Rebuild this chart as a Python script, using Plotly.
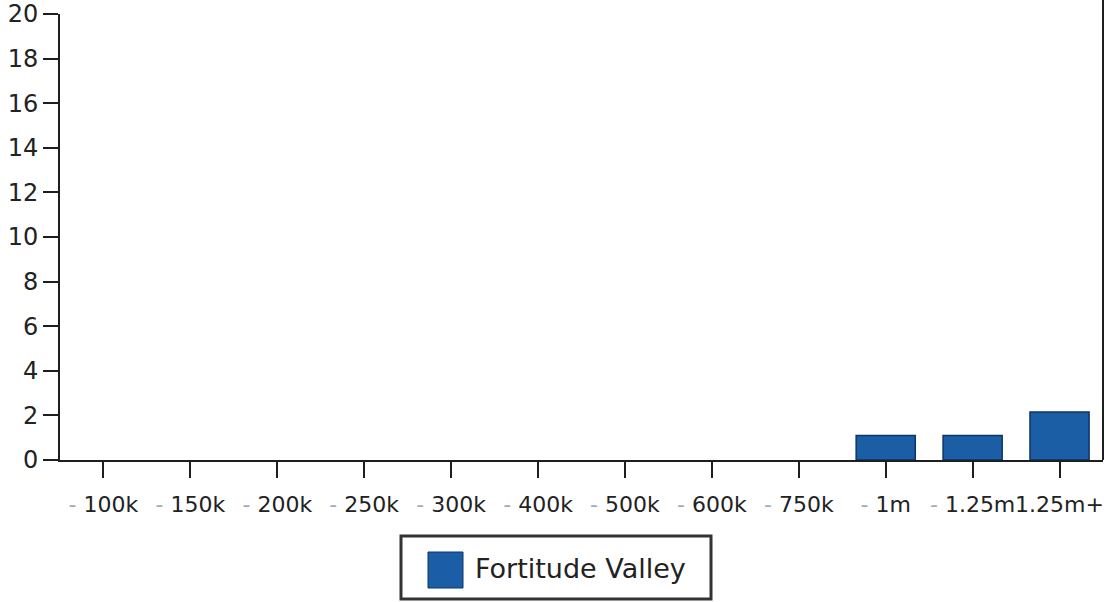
import plotly.graph_objects as go

categories = ["- 100k", "- 150k", "- 200k", "- 250k", "- 300k", "- 400k",
              "- 500k", "- 600k", "- 750k", "- 1m", "- 1.25m", "1.25m+"]
values = [0, 0, 0, 0, 0, 0, 0, 0, 0, 1.1, 1.1, 2.15]
series_name = "Fortitude Valley"
y_ticks = [0, 2, 4, 6, 8, 10, 12, 14, 16, 18, 20]

bar_color = "#1b5ea6"
ink = "#1e1e1e"
dash_color = "#9aaac0"

FIG_W, FIG_H = 1108, 602
ML, MR, MT, MB = 60, 5, 14, 142
plot_w = FIG_W - ML - MR
plot_h = FIG_H - MT - MB


def px_to_paper_x(px):
    return (px - ML) / plot_w


def px_to_paper_y(py):
    return (FIG_H - MB - py) / plot_h


ticktext = []
for c in categories:
    if c.startswith("- "):
        ticktext.append(f'<span style="color:{dash_color}">-</span> {c[2:]}')
    else:
        ticktext.append(c)

fig = go.Figure()
fig.add_trace(go.Bar(
    x=categories, y=values, name=series_name,
    marker=dict(color=bar_color,
                line=dict(color="#0d3566", width=[0 if v == 0 else 1.5 for v in values])),
    showlegend=True,
))

fig.update_layout(
    width=FIG_W, height=FIG_H,
    margin=dict(l=ML, r=MR, t=MT, b=MB, autoexpand=False),
    paper_bgcolor="white", plot_bgcolor="white",
    bargap=0.32,
    font=dict(family="DejaVu Sans", color=ink, size=20),
    showlegend=True,
    legend=dict(
        x=px_to_paper_x(400), xanchor="left",
        y=px_to_paper_y(543), yanchor="top",
        orientation="h",
        borderwidth=0,
        font=dict(size=27, color="#222222"),
        bgcolor="rgba(255,255,255,0)",
        itemwidth=65,
        entrywidth=228, entrywidthmode="pixels",
    ),
    xaxis=dict(
        type="category", categoryorder="array", categoryarray=categories,
        tickvals=categories, ticktext=ticktext,
        showline=True, linecolor=ink, linewidth=2,
        ticks="outside", ticklen=16, tickwidth=2, tickcolor=ink,
        tickfont=dict(size=22, color="#222222"),
        ticklabelstandoff=8, ticklabeloverflow="allow",
        showgrid=False, zeroline=False, tickangle=0, automargin=False,
    ),
    yaxis=dict(
        range=[0, 20], tickvals=y_ticks,
        showline=True, linecolor=ink, linewidth=2,
        ticks="outside", ticklen=15, tickwidth=2, tickcolor=ink,
        tickfont=dict(size=24, color="#222222"),
        ticklabeloverflow="allow",
        showgrid=False, zeroline=False, automargin=False,
    ),
)

# right-hand border line
fig.add_shape(type="line", xref="paper", yref="paper",
              x0=1, x1=1, y0=0, y1=px_to_paper_y(0),
              line=dict(color=ink, width=2))

# legend frame
fig.add_shape(type="rect", xref="paper", yref="paper",
              x0=px_to_paper_x(401), x1=px_to_paper_x(711),
              y0=px_to_paper_y(599), y1=px_to_paper_y(536),
              fillcolor="rgba(0,0,0,0)", line=dict(color="#333333", width=3))

# large legend swatch
fig.add_shape(type="rect", xref="paper", yref="paper",
              x0=px_to_paper_x(428), x1=px_to_paper_x(463),
              y0=px_to_paper_y(588), y1=px_to_paper_y(552),
              fillcolor=bar_color, line=dict(color="#0d3566", width=1))

fig.write_html("out.html",
               config={"displayModeBar": False},
               post_script="document.body.style.margin='0';document.body.style.padding='0';")
